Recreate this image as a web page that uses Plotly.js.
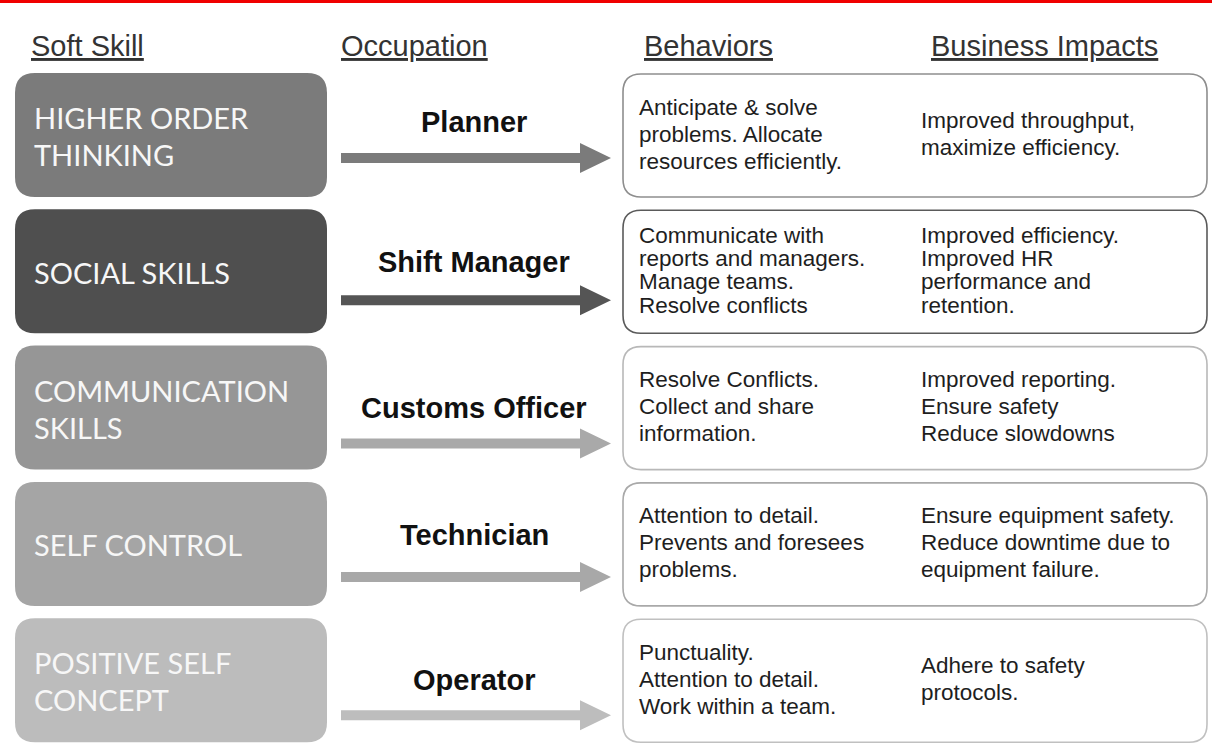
<!DOCTYPE html>
<html><head><meta charset="utf-8">
<script src="https://cdn.plot.ly/plotly-3.0.1.min.js"></script>
<style>html,body{margin:0;padding:0;background:#fff;}#chart{width:1212px;height:744px;}</style>
</head><body><div id="chart"></div>
<script>
// ---- content ----
const headers = ["Soft Skill", "Occupation", "Behaviors", "Business Impacts"];
const skills = ["HIGHER ORDER\nTHINKING", "SOCIAL SKILLS", "COMMUNICATION\nSKILLS", "SELF CONTROL", "POSITIVE SELF\nCONCEPT"];
const occupations = ["Planner", "Shift Manager", "Customs Officer", "Technician", "Operator"];
const behaviors = [
  "Anticipate & solve\nproblems. Allocate\nresources efficiently.",
  "Communicate with\nreports and managers.\nManage teams.\nResolve conflicts",
  "Resolve Conflicts.\nCollect and share\ninformation.",
  "Attention to detail.\nPrevents and foresees\nproblems.",
  "Punctuality.\nAttention to detail.\nWork within a team."
];
const impacts = [
  "Improved throughput,\nmaximize efficiency.",
  "Improved efficiency.\nImproved HR\nperformance and\nretention.",
  "Improved reporting.\nEnsure safety\nReduce slowdowns",
  "Ensure equipment safety.\nReduce downtime due to\nequipment failure.",
  "Adhere to safety\nprotocols."
];
const skillColors = ["#7b7b7b", "#4f4f4f", "#969696", "#a5a5a5", "#bcbcbc"];
const arrowColors = ["#7b7b7b", "#555555", "#a9a9a9", "#a8a8a8", "#bdbdbd"];
const borderColors = ["#8e8e8e", "#5a5a5a", "#b8b8b8", "#a9a9a9", "#c0c0c0"];

// ---- layout constants ----
const W = 1212, H = 744;
const headerX = [29, 339, 642, 929], headerY = 46;
const rowTop = i => 73 + i * 136.3;
const boxH = 124;
const skillX0 = 15, skillX1 = 327, skillR = 20;
const arrX0 = 341, arrXH = 580, arrX1 = 611, shaftHalf = 5, headHalf = 15;
const occX = 474;
const labelDy = [49, 53, 62, 53, 62];
const arrowDy = [85, 91, 98, 95, 97];
const rbX0 = 623, rbX1 = 1207, rbR = 18;
const behX = 637, impX = 919;

function rr(x0, y0, x1, y1, r) {
  return `M${x0 + r},${y0} L${x1 - r},${y0} Q${x1},${y0} ${x1},${y0 + r} L${x1},${y1 - r} Q${x1},${y1} ${x1 - r},${y1} L${x0 + r},${y1} Q${x0},${y1} ${x0},${y1 - r} L${x0},${y0 + r} Q${x0},${y0} ${x0 + r},${y0} Z`;
}

const shapes = [];
const annotations = [];

// top red rule
shapes.push({type: 'rect', xref: 'x', yref: 'y', x0: 0, x1: W, y0: 0, y1: 3, fillcolor: '#f00000', line: {width: 0}});

// headers
headers.forEach((h, k) => {
  annotations.push({x: headerX[k], y: headerY, xref: 'x', yref: 'y', xanchor: 'left', yanchor: 'middle',
    showarrow: false, text: '<u>' + h + '</u>',
    font: {family: 'Liberation Sans, Arial, sans-serif', size: 29, color: '#333333'}});
});

function addLines(text, x, yc, spacing, font, xanchor) {
  const lines = text.split('\n');
  const n = lines.length;
  lines.forEach((ln, j) => {
    annotations.push({x: x, y: yc + (j - (n - 1) / 2) * spacing, xref: 'x', yref: 'y',
      xanchor: xanchor || 'left', yanchor: 'middle', showarrow: false, text: ln, font: font});
  });
}

skills.forEach((s, i) => {
  const t = rowTop(i);
  // skill box
  shapes.push({type: 'path', xref: 'x', yref: 'y', path: rr(skillX0, t, skillX1, t + boxH, skillR),
    fillcolor: skillColors[i], line: {width: 0}});
  addLines(s, 32, t + 63, 37, {family: 'Lato, Open Sans, sans-serif', size: 29, color: '#f7f7f7'});

  // occupation label & arrow
  annotations.push({x: occX, y: t + labelDy[i], xref: 'x', yref: 'y', xanchor: 'center', yanchor: 'middle',
    showarrow: false, text: '<b>' + occupations[i] + '</b>',
    font: {family: 'Liberation Sans, Arial, sans-serif', size: 29, color: '#111111'}});
  const ay = t + arrowDy[i];
  shapes.push({type: 'path', xref: 'x', yref: 'y',
    path: `M${arrX0},${ay - shaftHalf} L${arrXH},${ay - shaftHalf} L${arrXH},${ay - headHalf} L${arrX1},${ay} L${arrXH},${ay + headHalf} L${arrXH},${ay + shaftHalf} L${arrX0},${ay + shaftHalf} Z`,
    fillcolor: arrowColors[i], line: {width: 0}});

  // right box
  const rt = t + 1;
  shapes.push({type: 'path', xref: 'x', yref: 'y', path: rr(rbX0, rt, rbX1, rt + boxH - 1, rbR),
    fillcolor: '#ffffff', line: {color: borderColors[i], width: 1.6}});
  const nb = behaviors[i].split('\n').length, ni = impacts[i].split('\n').length;
  const spacing = Math.max(nb, ni) >= 4 ? 23.3 : 27;
  const tf = {family: 'Liberation Sans, Arial, sans-serif', size: 22.5, color: '#1e1e1e'};
  addLines(behaviors[i], behX, rt + 60, spacing, tf);
  addLines(impacts[i], impX, rt + 60, spacing, tf);
});

const layout = {
  width: W, height: H,
  margin: {l: 0, r: 0, t: 0, b: 0},
  paper_bgcolor: '#ffffff', plot_bgcolor: '#ffffff',
  xaxis: {range: [0, W], visible: false, fixedrange: true},
  yaxis: {range: [H, 0], visible: false, fixedrange: true},
  showlegend: false,
  shapes: shapes,
  annotations: annotations
};

Plotly.newPlot('chart', [], layout, {staticPlot: true, displayModeBar: false});
</script>
</body></html>
